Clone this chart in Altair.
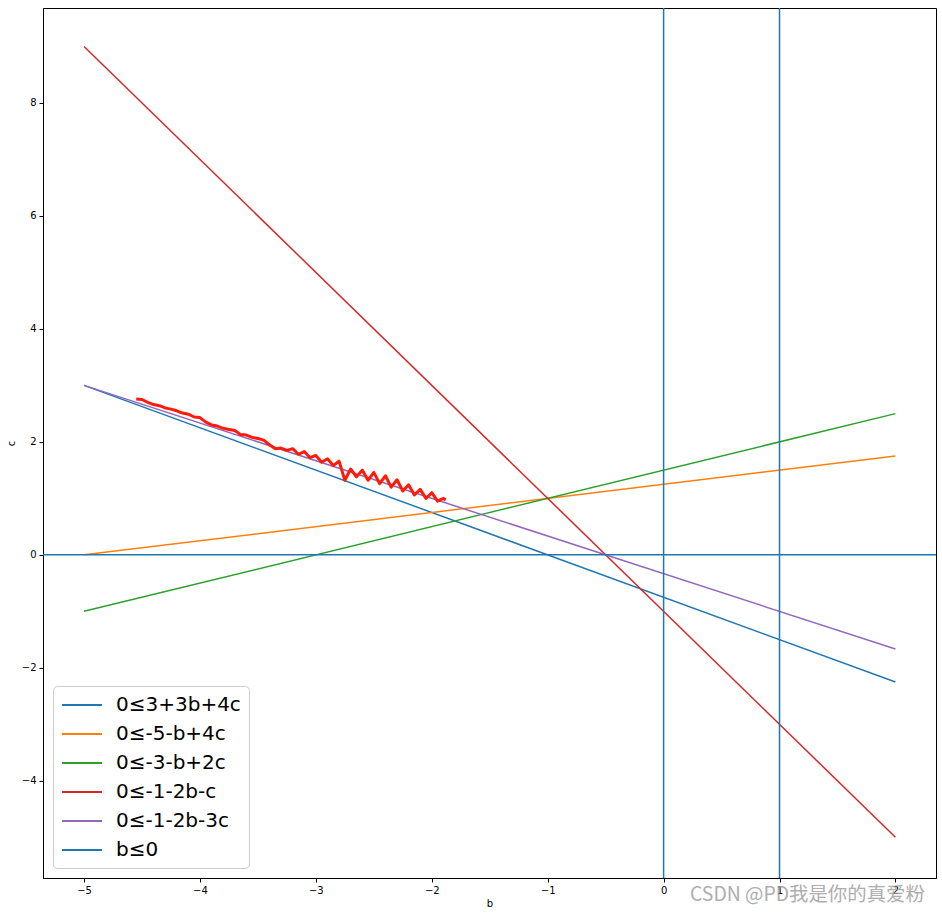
import altair as alt
import pandas as pd

# ---- data ----
labels = ["0≤3+3b+4c", "0≤-5-b+4c", "0≤-3-b+2c", "0≤-1-2b-c", "0≤-1-2b-3c", "b≤0"]
colors = ["#1f77b4", "#ff7f0e", "#2ca02c", "#d62728", "#9467bd", "#1f77b4"]

line_b = [-5.0, 2.0]
line_c_start = [3.0, 0.0, -1.0, 9.0, 3.0]
line_c_end = [-2.25, 1.75, 2.5, -5.0, -1.667]

vline_legend_b = [0.0]
vline_extra_b = [1.0]
hline_c = [0.0]

red_b = [-4.55, -4.5, -4.45, -4.4, -4.35, -4.3, -4.25, -4.2, -4.15, -4.1,
         -4.05, -4.0, -3.95, -3.9, -3.85, -3.8, -3.75, -3.7, -3.65, -3.6,
         -3.55, -3.5, -3.45, -3.4, -3.35, -3.3, -3.25, -3.2, -3.15, -3.1,
         -3.05, -3.0, -2.95, -2.9, -2.85, -2.8, -2.75, -2.7, -2.65, -2.6,
         -2.55, -2.5, -2.45, -2.4, -2.35, -2.3, -2.25, -2.2, -2.15, -2.1,
         -2.05, -2.0, -1.95, -1.9, -1.88]
red_c = [2.76, 2.75, 2.70, 2.66, 2.64, 2.60, 2.58, 2.55, 2.51, 2.49,
         2.44, 2.43, 2.35, 2.30, 2.28, 2.24, 2.22, 2.20, 2.13, 2.12,
         2.08, 2.06, 2.03, 1.95, 1.88, 1.89, 1.85, 1.88, 1.78, 1.83,
         1.72, 1.76, 1.64, 1.70, 1.58, 1.66, 1.32, 1.52, 1.38, 1.50,
         1.32, 1.46, 1.26, 1.40, 1.20, 1.33, 1.13, 1.24, 1.06, 1.16,
         1.00, 1.10, 0.95, 1.00, 0.97]

x_domain = [-5.354, 2.35]
y_domain = [-5.72, 9.68]
x_ticks = [-5, -4, -3, -2, -1, 0, 1, 2]
y_ticks = [-4, -2, 0, 2, 4, 6, 8]

watermark = ["CSDN @PD我是你的真爱粉"]

# ---- tables ----
rows = []
for lab, c0, c1 in zip(labels[:5], line_c_start, line_c_end):
    rows.append({"label": lab, "b": line_b[0], "c": c0})
    rows.append({"label": lab, "b": line_b[1], "c": c1})
lines_df = pd.DataFrame(rows)
red_df = pd.DataFrame({"b": red_b, "c": red_c})
vleg_df = pd.DataFrame({"b": vline_legend_b, "label": [labels[5]]})
vext_df = pd.DataFrame({"b": vline_extra_b})
h_df = pd.DataFrame({"c": hline_c})
wm_df = pd.DataFrame({"t": watermark})

xs = alt.Scale(domain=x_domain, nice=False, zero=False)
ys = alt.Scale(domain=y_domain, nice=False, zero=False)
xax = alt.Axis(values=x_ticks, title="b", grid=False, format="d")
yax = alt.Axis(values=y_ticks, title="c", grid=False, format="d")

color = alt.Color(
    "label:N",
    scale=alt.Scale(domain=labels, range=colors),
    legend=alt.Legend(
        title=None, orient="none", legendX=10, legendY=678,
        symbolType="M-2,0H2", symbolSize=400, symbolStrokeWidth=2,
        symbolOffset=10, labelOffset=23,
        labelFontSize=20, labelFont="DejaVu Sans", labelColor="black",
        strokeColor="#cccccc", fillColor="white",
        cornerRadius=4, padding=8, rowPadding=8,
    ),
)

lines = alt.Chart(lines_df).mark_line(strokeWidth=1.5, clip=True).encode(
    x=alt.X("b:Q", scale=xs, axis=xax),
    y=alt.Y("c:Q", scale=ys, axis=yax),
    color=color,
    detail="label:N",
)

vleg = alt.Chart(vleg_df).mark_rule(strokeWidth=1.5).encode(
    x=alt.X("b:Q", scale=xs), color=alt.Color("label:N")
)
vext = alt.Chart(vext_df).mark_rule(strokeWidth=1.5, color="#1f77b4").encode(
    x=alt.X("b:Q", scale=xs)
)
hline = alt.Chart(h_df).mark_rule(strokeWidth=1.5, color="#1f77b4").encode(
    y=alt.Y("c:Q", scale=ys)
)
red = alt.Chart(red_df).mark_line(color="#ff1a0a", strokeWidth=3, strokeJoin="round").encode(
    x=alt.X("b:Q", scale=xs), y=alt.Y("c:Q", scale=ys), order=alt.Order("b:Q")
)
wm = alt.Chart(wm_df).mark_text(
    font="Noto Sans CJK SC", fontSize=19.4, color="#9a9a9a", opacity=0.8,
    align="left", baseline="middle",
).encode(x=alt.value(647), y=alt.value(887), text="t:N")

chart = (
    alt.layer(lines, vleg, vext, hline, red, wm)
    .properties(width=893, height=870, autosize="none",
                padding={"left": 43, "top": 8, "right": 6, "bottom": 37})
    .configure_view(stroke="black", strokeWidth=1)
    .configure_axis(labelFontSize=10, titleFontSize=10, labelFont="DejaVu Sans",
                    titleFont="DejaVu Sans", titleFontWeight="normal",
                    labelColor="black", titleColor="black", domainColor="black",
                    tickColor="black", tickSize=4, labelPadding=3)
    .configure_axisX(titlePadding=3)
    .configure_axisY(titlePadding=5)
)

chart.save("out.html", embed_options={"renderer": "svg", "actions": False})
